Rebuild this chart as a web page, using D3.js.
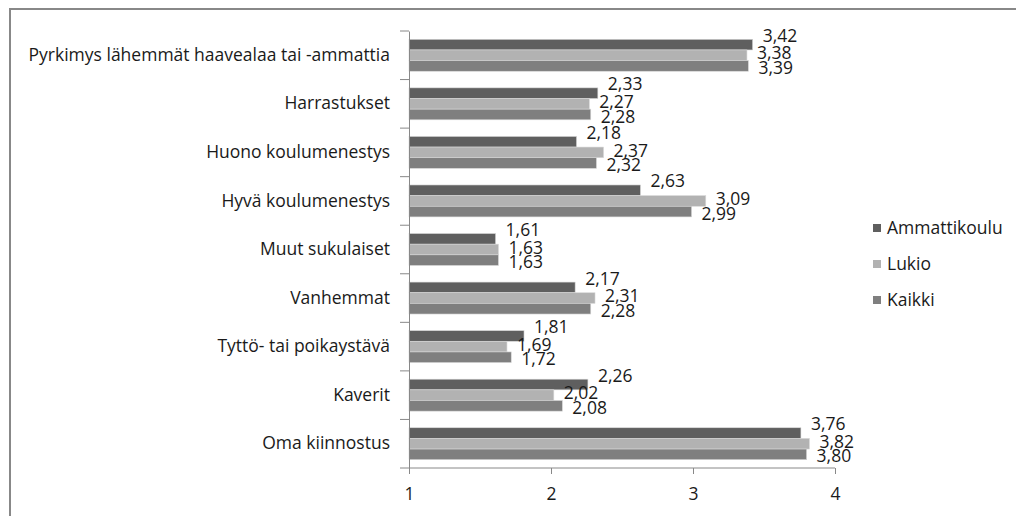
<!DOCTYPE html>
<html>
<head>
<meta charset="utf-8">
<script src="https://cdn.jsdelivr.net/npm/d3@7"></script>
<style>
  body { margin: 0; background: #fff; }
  text { font-family: "Open Sans", "DejaVu Sans", sans-serif; fill: #1a1a1a; }
</style>
</head>
<body>
<div id="chart"></div>
<script>
// categories top to bottom
var categories = [
    "Pyrkimys lähemmät haavealaa tai -ammattia",
    "Harrastukset",
    "Huono koulumenestys",
    "Hyvä koulumenestys",
    "Muut sukulaiset",
    "Vanhemmat",
    "Tyttö- tai poikaystävä",
    "Kaverit",
    "Oma kiinnostus"
];
var seriesNames = ["Ammattikoulu", "Lukio", "Kaikki"];
var ammattikoulu = [3.42, 2.33, 2.18, 2.63, 1.61, 2.17, 1.81, 2.26, 3.76];
var lukio        = [3.38, 2.27, 2.37, 3.09, 1.63, 2.31, 1.69, 2.02, 3.82];
var kaikki       = [3.39, 2.28, 2.32, 2.99, 1.63, 2.28, 1.72, 2.08, 3.80];
var xTicks = [1, 2, 3, 4];

var colors = ["#5f5f5f", "#b2b2b2", "#7f7f7f"];
var series = [ammattikoulu, lukio, kaikki];

var width = 1016, height = 516;
var plot = { left: 409, right: 835, top: 31, bottom: 468 };
var fontSize = "17.5px";

var svg = d3.select("#chart").append("svg")
    .attr("width", width)
    .attr("height", height);

// chart outline
svg.append("path")
    .attr("d", "M10,522 L10,9 L1022,9")
    .attr("fill", "none")
    .attr("stroke", "#888")
    .attr("stroke-width", 2);

var x = d3.scaleLinear()
    .domain([1, 4])
    .range([plot.left, plot.right]);

var y = d3.scaleBand()
    .domain(categories)
    .range([plot.top, plot.bottom]);

var inner = d3.scaleBand()
    .domain(d3.range(series.length))
    .range([0, y.bandwidth()])
    .paddingOuter(0.78);

var fmt = function (v) { return d3.format(".2f")(v).replace(".", ","); };

// bars
var groups = svg.append("g").selectAll("g")
    .data(categories)
    .enter().append("g")
    .attr("transform", function (d) { return "translate(0," + y(d) + ")"; });

var labelShift = [-9, -2, 2];

series.forEach(function (vals, s) {
    groups.append("rect")
        .attr("x", x(1))
        .attr("y", function (d, i) { return inner(s); })
        .attr("width", function (d, i) { return x(vals[i]) - x(1); })
        .attr("height", inner.bandwidth())
        .attr("fill", colors[s])
        .attr("stroke", "#d8d8d8")
        .attr("stroke-width", 0.6);

    groups.append("text")
        .attr("x", function (d, i) { return x(vals[i]) + 10; })
        .attr("y", function (d, i) { return inner(s) + inner.bandwidth() / 2 + labelShift[s]; })
        .attr("dy", "0.35em")
        .style("font-size", fontSize)
        .text(function (d, i) { return fmt(vals[i]); });
});

// y axis
var yAxis = d3.axisLeft(y).tickSize(0).tickPadding(19);
var yg = svg.append("g")
    .attr("transform", "translate(" + plot.left + ",0)")
    .call(yAxis);
yg.select(".domain").attr("stroke", "#888");
yg.selectAll("text").style("font-size", fontSize).attr("fill", "#1a1a1a");

// category separators (ticks between bands)
svg.append("g").selectAll("line")
    .data(d3.range(categories.length + 1))
    .enter().append("line")
    .attr("x1", plot.left - 9)
    .attr("x2", plot.left)
    .attr("y1", function (i) { return plot.top + i * y.step(); })
    .attr("y2", function (i) { return plot.top + i * y.step(); })
    .attr("stroke", "#888");

// x axis
var xAxis = d3.axisBottom(x).tickValues(xTicks).tickSize(6).tickPadding(14)
    .tickFormat(d3.format("d"));
var xg = svg.append("g")
    .attr("transform", "translate(0," + plot.bottom + ")")
    .call(xAxis);
xg.select(".domain").attr("stroke", "#888").attr("d", "M" + plot.left + ",0H" + plot.right);
xg.selectAll(".tick line").attr("stroke", "#888");
xg.selectAll("text").style("font-size", fontSize).attr("fill", "#1a1a1a");

// legend
var legend = svg.append("g").selectAll("g")
    .data(seriesNames)
    .enter().append("g")
    .attr("transform", function (d, i) { return "translate(873," + (228 + i * 36) + ")"; });
legend.append("rect")
    .attr("x", 0).attr("y", -4)
    .attr("width", 8).attr("height", 8)
    .attr("fill", function (d, i) { return colors[i]; });
legend.append("text")
    .attr("x", 14)
    .attr("dy", "0.35em")
    .style("font-size", fontSize)
    .text(function (d) { return d; });
</script>
</body>
</html>
